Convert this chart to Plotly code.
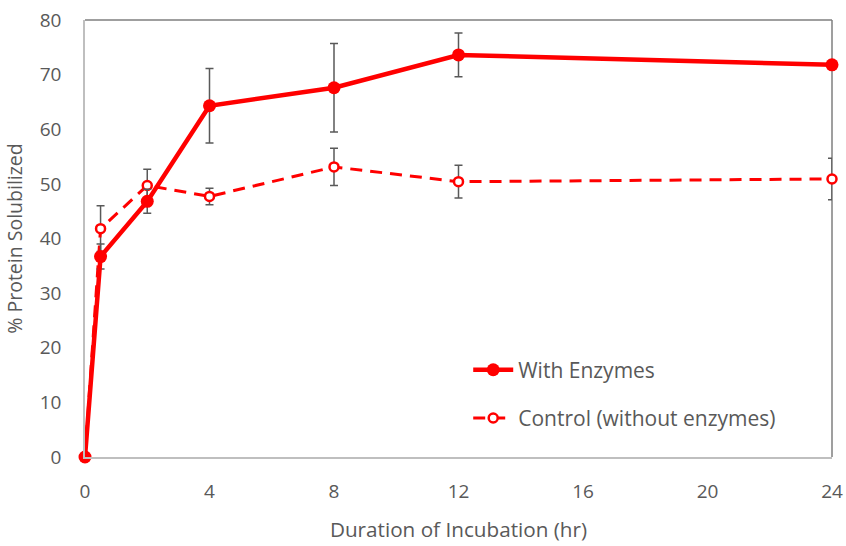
import plotly.graph_objects as go

hours = [0, 0.5, 2, 4, 8, 12, 24]
enzymes = [0, 36.7, 46.8, 64.3, 67.6, 73.6, 71.8]
enzymes_err = [0, 2.3, 2.2, 6.8, 8.1, 4.0, 0.8]
control = [0, 41.8, 49.7, 47.7, 53.1, 50.4, 50.9]
control_err = [0, 4.2, 3.0, 1.5, 3.4, 3.0, 3.8]

x_ticks = [0, 4, 8, 12, 16, 20, 24]
y_ticks = [0, 10, 20, 30, 40, 50, 60, 70, 80]

RED = "#ff0000"
GRAY = "#595959"
FONT = "'Open Sans', sans-serif"

fig = go.Figure()
fig.add_trace(go.Scatter(
    x=hours, y=control, name="Control (without enzymes)", mode="lines+markers",
    legendgroup="c", legendrank=2,
    line=dict(color=RED, width=3, dash="12px,8px"),
    marker=dict(symbol="circle", size=9, color="white", line=dict(color=RED, width=2.5)),
    error_y=dict(type="data", array=control_err, color=GRAY, thickness=1.5, width=4),
    cliponaxis=False,
))
fig.add_trace(go.Scatter(
    x=hours, y=enzymes, name="With Enzymes", mode="lines+markers",
    legendgroup="e", legendrank=1,
    line=dict(color=RED, width=4.5),
    marker=dict(symbol="circle", size=13, color=RED),
    error_y=dict(type="data", array=enzymes_err, color=GRAY, thickness=1.5, width=4),
    cliponaxis=False,
))

fig.update_layout(
    width=846, height=546,
    margin=dict(l=85, r=14, t=20, b=89),
    paper_bgcolor="white", plot_bgcolor="white",
    font=dict(family=FONT, size=20, color=GRAY),
    showlegend=True,
    legend=dict(x=0.513, y=0.144, xanchor="left", yanchor="middle",
                traceorder="grouped", bgcolor="rgba(0,0,0,0)",
                font=dict(size=21, color=GRAY), tracegroupgap=18,
                itemwidth=40),
    xaxis=dict(range=[0, 24], tickvals=x_ticks, showgrid=False, zeroline=False,
               showline=True, linecolor="#bfbfbf", linewidth=1.5, ticks="",
               automargin=False, ticklabelstandoff=16,
               title=dict(text="Duration of Incubation (hr)", standoff=20,
                          font=dict(size=20.7, color=GRAY)),
               tickfont=dict(size=19, color=GRAY)),
    yaxis=dict(range=[0, 80], tickvals=y_ticks, showgrid=False, zeroline=False,
               showline=True, linecolor="#bfbfbf", linewidth=1.5, ticks="",
               automargin=False, ticklabelstandoff=18,
               title=dict(text="% Protein Solubilized", standoff=12,
                          font=dict(size=19.5, color=GRAY)),
               tickfont=dict(size=19, color=GRAY)),
)

# top and right frame lines
fig.add_shape(type="line", xref="paper", yref="paper", x0=0, x1=1, y0=1, y1=1,
              line=dict(color="#7f7f7f", width=1.5), layer="below")
fig.add_shape(type="line", xref="paper", yref="paper", x0=1, x1=1, y0=0, y1=1,
              line=dict(color="#7f7f7f", width=1.5), layer="below")

fig.write_html("out.html")
